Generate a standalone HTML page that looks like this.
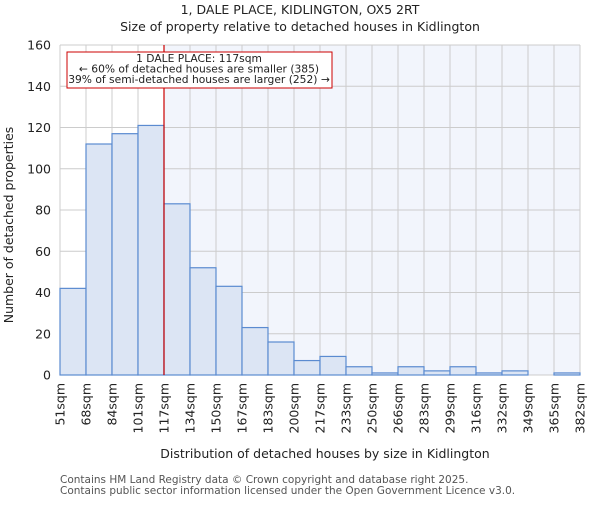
<!DOCTYPE html>
<html><head><meta charset="utf-8"><style>
body{margin:0;background:#fff}
svg text{font-family:"DejaVu Sans","Liberation Sans",sans-serif;fill:#222}
</style></head><body>
<svg id="c" width="600" height="500" xmlns="http://www.w3.org/2000/svg">
<text x="300" y="14" font-size="12.5" text-anchor="middle">1, DALE PLACE, KIDLINGTON, OX5 2RT</text>
<text x="300" y="31" font-size="12.5" text-anchor="middle">Size of property relative to detached houses in Kidlington</text>
<g id="plot"></g>
<text x="325" y="458" font-size="12.5" text-anchor="middle">Distribution of detached houses by size in Kidlington</text>
<text transform="translate(13,225) rotate(-90)" font-size="12.5" text-anchor="middle">Number of detached properties</text>
<text x="60" y="483" font-size="10.5" style="fill:#555">Contains HM Land Registry data © Crown copyright and database right 2025.</text>
<text x="60" y="494" font-size="10.5" style="fill:#555">Contains public sector information licensed under the Open Government Licence v3.0.</text>
</svg>
<script>
const binLabels=["51sqm","68sqm","84sqm","101sqm","117sqm","134sqm","150sqm","167sqm","183sqm","200sqm","217sqm","233sqm","250sqm","266sqm","283sqm","299sqm","316sqm","332sqm","349sqm","365sqm","382sqm"];
const counts=[42,112,117,121,83,52,43,23,16,7,9,4,1,4,2,4,1,2,0,1];
const yTicks=[0,20,40,60,80,100,120,140,160];
const markerIndex=4;
const X0=60,X1=580,Y0=375,Y1=45,YMAX=160;
const nb=counts.length,bw=(X1-X0)/nb;
const xs=i=>X0+i*bw, ys=v=>Y0-(v/YMAX)*(Y0-Y1);
const NS="http://www.w3.org/2000/svg",g=document.getElementById('plot');
function mk(t,a){const e=document.createElementNS(NS,t);for(const k in a)e.setAttribute(k,a[k]);g.appendChild(e);return e;}
let e=mk('rect',{x:xs(markerIndex),y:Y1,width:X1-xs(markerIndex),height:Y0-Y1,fill:'#f2f5fc'});


yTicks.forEach(v=>{let l=mk('line',{x1:X0,x2:X1,y1:ys(v),y2:ys(v),stroke:'#ccc'});


let t=mk('text',{x:X0-9,y:ys(v)+4.5,'font-size':12.5,'text-anchor':'end'});t.textContent=v;

});
binLabels.forEach((s,i)=>{let l=mk('line',{x1:xs(i),x2:xs(i),y1:Y1,y2:Y0,stroke:'#ccc'});


let t=mk('text',{transform:`translate(${xs(i)+4.5},${Y0+8}) rotate(-90)`,'font-size':12.5,'text-anchor':'end'});t.textContent=s;

});
counts.forEach((v,i)=>{let r=mk('rect',{x:xs(i),y:ys(v),width:bw,height:Y0-ys(v),fill:'#dce5f4',stroke:'#5b8bd0','stroke-width':1.2});

});
e=mk('line',{x1:xs(markerIndex),x2:xs(markerIndex),y1:Y1,y2:Y0,stroke:'#cc0000','stroke-width':1.2});


e=mk('rect',{x:67,y:52,width:265,height:36,fill:'#fff',stroke:'#cc0000'});


["1 DALE PLACE: 117sqm","← 60% of detached houses are smaller (385)","39% of semi-detached houses are larger (252) →"].forEach((s,i)=>{let t=mk('text',{x:199,y:62+i*10.5,'font-size':10.7,'text-anchor':'middle'});t.textContent=s;

});
</script>
</body></html>
